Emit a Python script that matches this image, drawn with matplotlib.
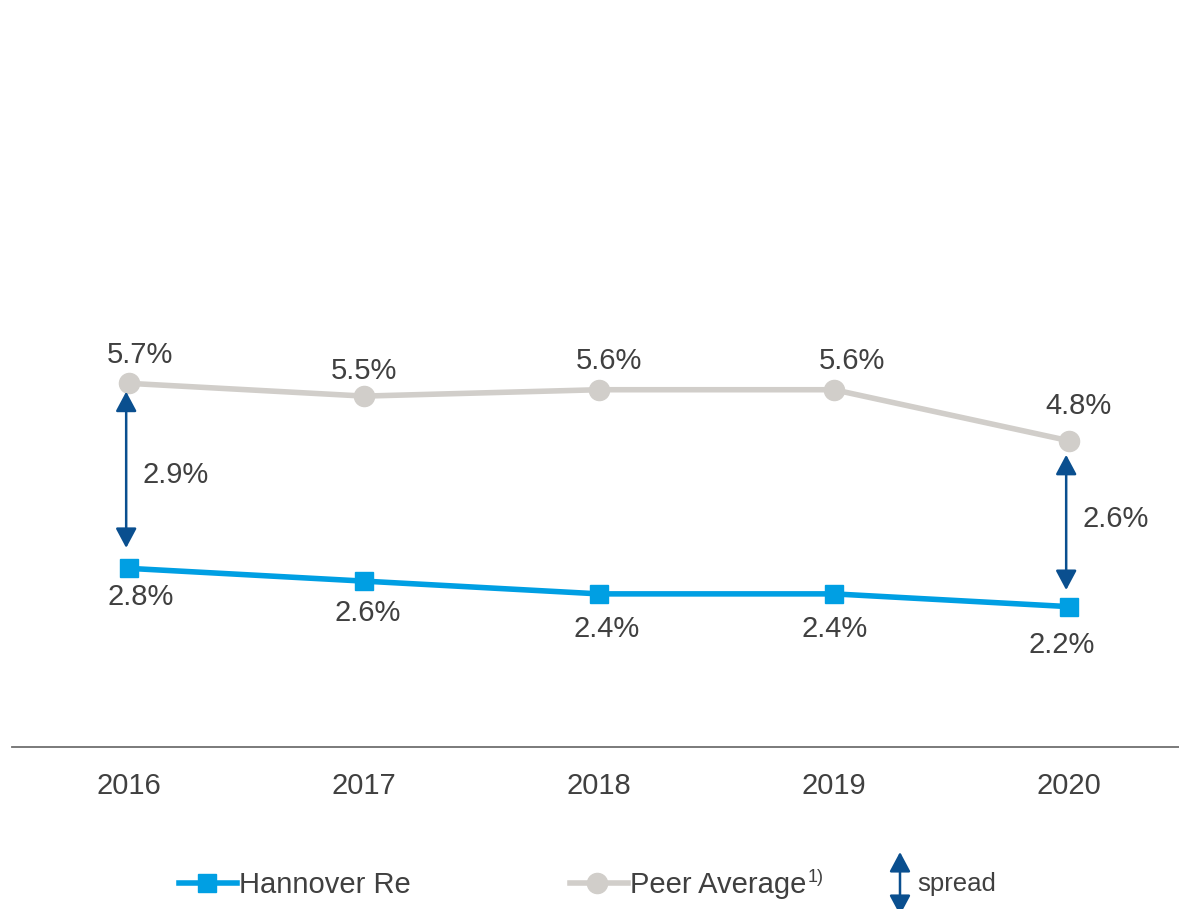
import matplotlib
matplotlib.use("Agg")
import matplotlib.pyplot as plt
from matplotlib.lines import Line2D
from matplotlib.patches import FancyArrowPatch

years = ["2016", "2017", "2018", "2019", "2020"]
hannover = [2.8, 2.6, 2.4, 2.4, 2.2]
peer = [5.7, 5.5, 5.6, 5.6, 4.8]
spread_idx = [0, 4]
spread_labels = ["2.9%", "2.6%"]

BLUE = "#009FE3"
GRAY = "#D1CECA"
DARK = "#0A4F8F"
TXT = "#404040"
FS = 21

W, H = 1179, 909
PXU = 63.8  # px per unit
fig = plt.figure(figsize=(W / 100, H / 100), dpi=100)
plt.rcParams['font.family'] = ['Liberation Sans', 'DejaVu Sans']

ax_left = 11.5 / W
ax_w = 1175 / W
ax_bottom = (H - 747) / H
ax_h = 11 * PXU / H
ax = fig.add_axes([ax_left, ax_bottom, ax_w, ax_h])
ax.set_xlim(-0.5, 4.5)
ax.set_ylim(0, 11)
for s in ["top", "right", "left"]:
    ax.spines[s].set_visible(False)
ax.spines["bottom"].set_color("#6f6f6f")
ax.spines["bottom"].set_linewidth(1.3)
ax.set_yticks([])
xs = list(range(len(years)))
ax.set_xticks(xs)
ax.set_xticklabels(years, fontsize=FS, color=TXT)
ax.tick_params(axis="x", length=0, pad=18)

ax.plot(xs, peer, color=GRAY, lw=4, marker="o", ms=14.5, zorder=3, clip_on=False)
ax.plot(xs, hannover, color=BLUE, lw=4, marker="s", ms=12.8, zorder=3, clip_on=False)

# label offsets in pixels (dx, dy up)
peer_off = [(11, 28), (0, 25.5), (10, 29), (18, 29), (10, 35)]
han_off = [(12, -29), (4, -31.5), (8, -35.5), (1, -35.5), (-7, -38)]
k = 0.72
for x, v, (dx, dy) in zip(xs, peer, peer_off):
    ax.annotate(f"{v:.1f}%", (x, v), xytext=(dx * k, dy * k), textcoords="offset points",
                ha="center", va="center", fontsize=FS, color=TXT)
for x, v, (dx, dy) in zip(xs, hannover, han_off):
    ax.annotate(f"{v:.1f}%", (x, v), xytext=(dx * k, dy * k), textcoords="offset points",
                ha="center", va="center", fontsize=FS, color=TXT)

top_gap = [0.13, 0.22]
bot_gap = [0.32, 0.26]
lab_dy = [0.02, 0.07]
astyle = "<|-|>,head_length=0.6,head_width=0.32"
for j, (i, lab) in enumerate(zip(spread_idx, spread_labels)):
    x = xs[i] - 0.012
    top = peer[i] - top_gap[j]
    bot = hannover[i] + bot_gap[j]
    arr = FancyArrowPatch((x, bot), (x, top), arrowstyle=astyle,
                          mutation_scale=20, color=DARK, lw=1.8, shrinkA=0, shrinkB=0, zorder=4)
    ax.add_patch(arr)
    ax.text(xs[i] + 0.057, (peer[i] + hannover[i]) / 2 + lab_dy[j],
            lab, ha="left", va="center", fontsize=FS, color=TXT)

# legend (manual)
def fx(px):
    return px / W

def fy(py):
    return (H - py) / H

ly = 883
fig.add_artist(Line2D([fx(179), fx(237)], [fy(ly), fy(ly)], color=BLUE, lw=4,
                      transform=fig.transFigure))
fig.add_artist(Line2D([fx(207)], [fy(ly)], color=BLUE, marker="s", ms=12.8,
                      transform=fig.transFigure))
fig.text(fx(239), fy(ly + 2), "Hannover Re", ha="left", va="center", fontsize=FS, color=TXT)

fig.add_artist(Line2D([fx(570), fx(628)], [fy(ly), fy(ly)], color=GRAY, lw=4,
                      transform=fig.transFigure))
fig.add_artist(Line2D([fx(597)], [fy(ly)], color=GRAY, marker="o", ms=14.5,
                      transform=fig.transFigure))
fig.text(fx(630), fy(ly + 2), "Peer Average", ha="left", va="center", fontsize=FS, color=TXT)
fig.text(fx(808), fy(878), "1)", ha="left", va="center", fontsize=13, color=TXT)

fig.add_artist(FancyArrowPatch((fx(900), fy(915)), (fx(900), fy(852)),
                               arrowstyle=astyle,
                               mutation_scale=20, color=DARK, lw=1.8, shrinkA=0, shrinkB=0,
                               transform=fig.transFigure))
fig.text(fx(917), fy(ly + 1), "spread", ha="left", va="center", fontsize=18.5, color=TXT)

fig.savefig("out.png", dpi=100)
